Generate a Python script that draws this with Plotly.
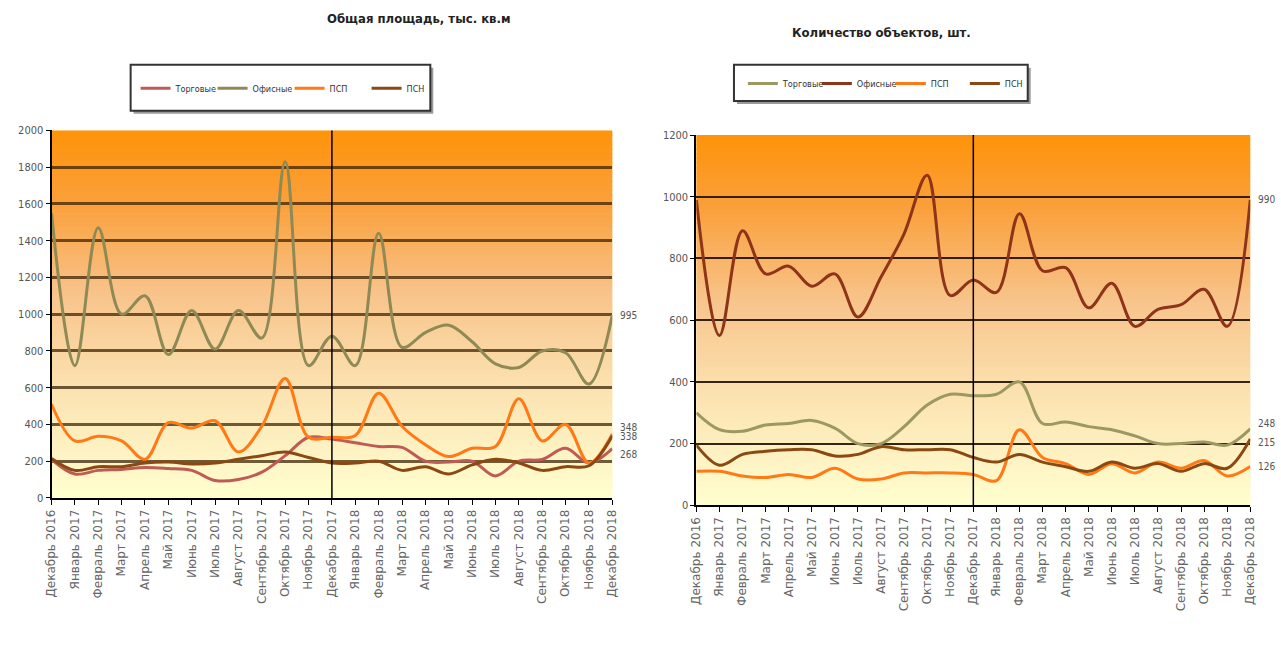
import plotly.graph_objects as go

W, H = 1281, 648

months = [
    "Декабрь 2016", "Январь 2017", "Февраль 2017", "Март 2017", "Апрель 2017",
    "Май 2017", "Июнь 2017", "Июль 2017", "Август 2017", "Сентябрь 2017",
    "Октябрь 2017", "Ноябрь 2017", "Декабрь 2017", "Январь 2018", "Февраль 2018",
    "Март 2018", "Апрель 2018", "Май 2018", "Июнь 2018", "Июль 2018",
    "Август 2018", "Сентябрь 2018", "Октябрь 2018", "Ноябрь 2018", "Декабрь 2018",
]
year_break = "Декабрь 2017"

# Общая площадь, тыс. кв.м
area_names = ["Торговые", "Офисные", "ПСП", "ПСН"]
area_trade = [210, 130, 150, 155, 165, 160, 150, 95, 100, 140, 230, 330, 320,
              300, 280, 275, 200, 195, 200, 120, 200, 210, 270, 190, 268]
area_office = [1550, 720, 1470, 1000, 1100, 780, 1020, 810, 1020, 870, 1830, 720, 880,
               720, 1440, 820, 900, 940, 850, 730, 710, 800, 790, 620, 995]
area_psp = [510, 310, 335, 310, 210, 410, 380, 420, 250, 390, 650, 330, 330,
            340, 570, 390, 290, 225, 270, 280, 540, 310, 400, 190, 348]
area_psn = [215, 150, 170, 170, 190, 195, 185, 190, 210, 230, 250, 220, 190,
            190, 200, 150, 170, 130, 180, 210, 190, 150, 170, 175, 338]
area_colors = ["#bf5b57", "#8f8a55", "#ff7a17", "#8a4812"]

# Количество объектов, шт.
count_names = ["Торговые", "Офисные", "ПСП", "ПСН"]
count_trade = [300, 245, 240, 260, 265, 275, 250, 200, 200, 255, 325, 360, 355,
               360, 400, 265, 270, 255, 245, 225, 200, 200, 205, 195, 248]
count_office = [990, 550, 890, 750, 775, 710, 750, 610, 740, 880, 1070, 680, 730,
                690, 945, 760, 770, 640, 720, 580, 635, 650, 700, 580, 990]
count_psp = [110, 110, 95, 90, 100, 90, 120, 85, 85, 105, 105, 105, 100,
             80, 245, 155, 135, 100, 135, 105, 140, 120, 145, 95, 126]
count_psn = [195, 130, 165, 175, 180, 180, 160, 165, 190, 180, 180, 180, 155,
             140, 165, 140, 125, 110, 140, 120, 135, 110, 135, 120, 215]
count_colors = ["#9c9862", "#8e3419", "#ff7a17", "#8a4812"]

area_series = [area_trade, area_office, area_psp, area_psn]
count_series = [count_trade, count_office, count_psp, count_psn]

# small vertical nudges (px) for end-of-line labels that sit on top of each other
area_label_shift = [-6, 0, 6, -1]
count_label_shift = [5, 0, 0, -4]


def px_x(x):
    return x / W


def px_y(y):
    return 1 - y / H


FONT = "Liberation Sans Narrow, DejaVu Sans Condensed, Arial Narrow, sans-serif"
GREY = "#555555"

fig = go.Figure()

for name, vals, col in zip(area_names, area_series, area_colors):
    fig.add_trace(go.Scatter(
        x=months, y=vals, name=name, mode="lines",
        line=dict(color=col, width=3, shape="spline", smoothing=1),
        xaxis="x", yaxis="y", legend="legend",
    ))

for name, vals, col in zip(count_names, count_series, count_colors):
    fig.add_trace(go.Scatter(
        x=months, y=vals, name=name, mode="lines",
        line=dict(color=col, width=3, shape="spline", smoothing=1),
        xaxis="x2", yaxis="y2", legend="legend2",
    ))

# plot areas in pixels: (left, right, top, bottom)
left_box = (45, 612, 127, 502)
right_box = (697, 1257, 131.7, 509.5)

axis_common = dict(
    type="category", range=[0, len(months) - 1], tickangle=-90,
    showline=True, linecolor="black", linewidth=2, ticks="outside",
    ticklen=5, tickcolor="black", showgrid=False,
    tickfont=dict(family="DejaVu Sans, sans-serif", size=12, color="#666666"),
)
fig.update_layout(
    xaxis=dict(domain=[px_x(left_box[0]), px_x(left_box[1])], anchor="y", **axis_common),
    yaxis=dict(domain=[px_y(left_box[3]), px_y(left_box[2])], anchor="x",
               range=[0, 2000], dtick=200, showline=True, linecolor="black",
               linewidth=2, ticks="outside", ticklen=4, tickcolor="black",
               showgrid=True, gridcolor="rgba(55,30,0,0.72)", gridwidth=3,
               zeroline=False,
               tickfont=dict(family=FONT, size=11, color=GREY)),
    xaxis2=dict(domain=[px_x(right_box[0]), px_x(right_box[1])], anchor="y2", **axis_common),
    yaxis2=dict(domain=[px_y(right_box[3]), px_y(right_box[2])], anchor="x2",
                range=[0, 1200], dtick=200, showline=True, linecolor="black",
                linewidth=2, ticks="outside", ticklen=4, tickcolor="black",
                showgrid=True, gridcolor="rgba(30,15,0,0.9)", gridwidth=2,
                zeroline=False,
                tickfont=dict(family=FONT, size=11, color=GREY)),
)

# vertical gradient behind each plot area: orange at the top, pale yellow at the bottom
stops = [(0.0, (255, 147, 10)), (0.2, (250, 160, 60)), (0.45, (248, 196, 140)),
         (0.7, (251, 226, 176)), (0.88, (254, 243, 196)), (1.0, (255, 255, 206))]


def grad_color(t):
    for (t0, c0), (t1, c1) in zip(stops[:-1], stops[1:]):
        if t <= t1:
            f = (t - t0) / (t1 - t0)
            return "rgb(%d,%d,%d)" % tuple(round(a + (b - a) * f) for a, b in zip(c0, c1))
    return "rgb(%d,%d,%d)" % stops[-1][1]


shapes = []
N = 80
for xa, ya in (("x", "y"), ("x2", "y2")):
    for k in range(N):
        t = (k + 0.5) / N
        shapes.append(dict(
            type="rect", xref=xa + " domain", yref=ya + " domain",
            x0=0, x1=1, y0=1 - (k + 1) / N - 0.002, y1=1 - k / N,
            fillcolor=grad_color(t), line=dict(width=0), layer="below",
        ))
    shapes.append(dict(type="line", xref=xa, yref=ya + " domain",
                       x0=year_break, x1=year_break, y0=0, y1=1,
                       line=dict(color="black", width=1.5), layer="above"))

# legend frames with drop shadow
for (x0, x1, y0, y1) in ((125, 428, 60, 107), (735, 1032, 60, 97)):
    shapes.append(dict(type="rect", xref="paper", yref="paper",
                       x0=px_x(x0 + 3), x1=px_x(x1 + 3), y0=px_y(y1 + 3), y1=px_y(y0 + 3),
                       fillcolor="#9a9a9a", line=dict(width=0), layer="below"))
    shapes.append(dict(type="rect", xref="paper", yref="paper",
                       x0=px_x(x0), x1=px_x(x1), y0=px_y(y1), y1=px_y(y0),
                       fillcolor="white", line=dict(color="#333333", width=2), layer="below"))

annotations = [
    dict(text="<b>Общая площадь, тыс. кв.м</b>", xref="paper", yref="paper",
         x=px_x(322), y=px_y(13), showarrow=False, yanchor="middle",
         font=dict(family=FONT, size=13, color="#222222")),
    dict(text="<b>Количество объектов, шт.</b>", xref="paper", yref="paper",
         x=px_x(977), y=px_y(27), showarrow=False, yanchor="middle",
         font=dict(family=FONT, size=13, color="#222222")),
]

# value labels at the last month of each series
for vals, dy in zip(area_series, area_label_shift):
    annotations.append(dict(text=str(vals[-1]), xref="x", yref="y",
                            x=months[-1], y=vals[-1], xanchor="left", xshift=6,
                            yshift=dy, showarrow=False,
                            font=dict(family=FONT, size=10, color=GREY)))
for vals, dy in zip(count_series, count_label_shift):
    annotations.append(dict(text=str(vals[-1]), xref="x2", yref="y2",
                            x=months[-1], y=vals[-1], xanchor="left", xshift=6,
                            yshift=dy, showarrow=False,
                            font=dict(family=FONT, size=10, color=GREY)))

legend_common = dict(
    orientation="h", bgcolor="rgba(0,0,0,0)", borderwidth=0,
    font=dict(family=FONT, size=9, color="#333333"),
    itemwidth=30, entrywidthmode="pixels",
    yanchor="middle", xanchor="left",
)

fig.update_layout(
    width=W, height=H,
    margin=dict(l=0, r=0, t=0, b=0),
    paper_bgcolor="white", plot_bgcolor="#fff8d0",
    shapes=shapes, annotations=annotations,
    legend=dict(x=px_x(130), y=px_y(84), entrywidth=32, **legend_common),
    legend2=dict(x=px_x(744), y=px_y(79), entrywidth=29, **legend_common),
    showlegend=True,
)

fig.write_html("out.html")
